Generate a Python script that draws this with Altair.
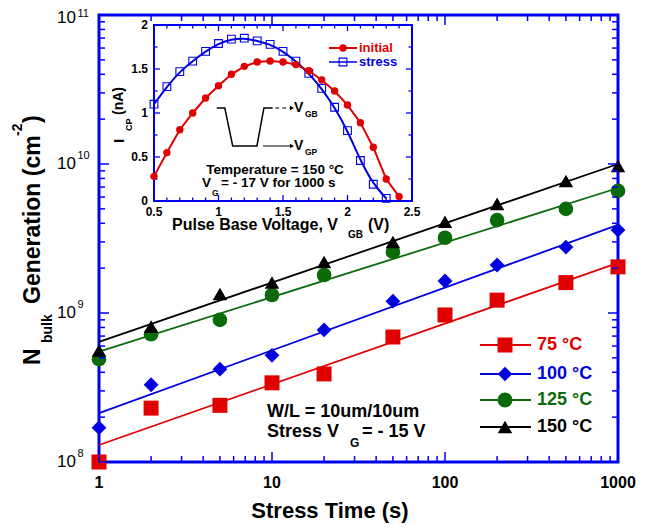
import altair as alt
import pandas as pd

# ---------------- data ----------------
stress_time = [1, 2, 5, 10, 20, 50, 100, 200, 500, 1000]
series_names = ["75 °C", "100 °C", "125 °C", "150 °C"]
n_75 = [1.0e8, 2.3e8, 2.4e8, 3.4e8, 3.9e8, 6.9e8, 9.7e8, 1.22e9, 1.6e9, 2.04e9]
n_100 = [1.7e8, 3.3e8, 4.2e8, 5.2e8, 7.7e8, 1.2e9, 1.64e9, 2.1e9, 2.77e9, 3.6e9]
n_125 = [4.9e8, 7.2e8, 9.0e8, 1.32e9, 1.8e9, 2.57e9, 3.2e9, 4.2e9, 5.0e9, 6.6e9]
n_150 = [5.6e8, 8.1e8, 1.34e9, 1.6e9, 2.2e9, 3.0e9, 4.1e9, 5.4e9, 7.7e9, 9.7e9]
fit_time = [1, 1000]
fit_start = [1.3e8, 2.13e8, 5.5e8, 6.4e8]
fit_end = [2.17e9, 3.9e9, 6.9e9, 1.0e10]

vgb_initial = [0.5, 0.6, 0.7, 0.8, 0.9, 1.0, 1.1, 1.2, 1.3, 1.4,
               1.5, 1.6, 1.7, 1.8, 1.9, 2.0, 2.1, 2.2, 2.3, 2.4]
icp_initial = [0.28, 0.55, 0.81, 1.00, 1.17, 1.31, 1.44, 1.53, 1.58, 1.59,
               1.58, 1.55, 1.48, 1.375, 1.25, 1.09, 0.89, 0.61, 0.25, 0.05]
vgb_stress = [0.5, 0.6, 0.7, 0.8, 0.9, 1.0, 1.1, 1.2, 1.3, 1.4,
              1.5, 1.6, 1.7, 1.8, 1.9, 2.0, 2.1, 2.2, 2.3]
icp_stress = [1.10, 1.30, 1.47, 1.59, 1.70, 1.79, 1.84, 1.85, 1.82, 1.78,
              1.70, 1.59, 1.45, 1.28, 1.065, 0.80, 0.46, 0.19, 0.03]

# schematic pulse drawn inside the inset (in inset units)
pulse_v = [0.987, 1.049, 1.11, 1.298, 1.352, 1.42]
pulse_i = [1.057, 1.057, 0.625, 0.625, 1.057, 1.057]
arrow_gb_v = [1.44, 1.57]
arrow_gp_v = [1.345, 1.57]
arrow_gb_i = 1.057
arrow_gp_i = 0.625

x_tick_vals = [1, 10, 100, 1000]
x_tick_labels = ["1", "10", "100", "1000"]
y_tick_vals = [1e8, 1e9, 1e10]
y_tick_exp = ["8", "9", "10"]
y_top_val = [1e11]
y_top_exp = ["11"]
inset_x_ticks = [0.5, 1.0, 1.5, 2.0, 2.5]
inset_x_labels = ["0.5", "1", "1.5", "2", "2.5"]
inset_y_ticks = [0.0, 0.5, 1.0, 1.5, 2.0]
inset_y_labels = ["0", "0.5", "1", "1.5", "2"]
inset_x_minor = [0.6, 0.7, 0.8, 0.9, 1.1, 1.2, 1.3, 1.4, 1.6, 1.7, 1.8, 1.9,
                 2.1, 2.2, 2.3, 2.4]
inset_y_minor = [0.25, 0.75, 1.25, 1.75]

# ---------------- style ----------------
FONT = "Liberation Sans"
RED = "#e00000"
BLUE = "#0000e0"
GREEN = "#0b6b0b"
BLACK = "#000000"
FRAME = "#0000f0"
COLORS = [RED, BLUE, GREEN, BLACK]
SHAPES = ["square", "diamond", "circle", "triangle-up"]
SIZES = [225, 210, 225, 210]

W, H = 519, 447
IX0, IX1, IY_TOP, IY_BOT = 55, 313, 10, 186

xs = alt.Scale(type="log", domain=[1, 1000], nice=False)
ys = alt.Scale(type="log", domain=[1e8, 1e11], nice=False)
ixs = alt.Scale(domain=[0.5, 2.5], range=[IX0, IX1], nice=False, zero=False)
iys = alt.Scale(domain=[0, 2], range=[IY_BOT, IY_TOP], nice=False, zero=False)

one = pd.DataFrame({"k": [0]})


def label(text, x, y, size, color=BLACK, align="left", weight="bold", angle=0):
    kw = dict(font=FONT, fontSize=size, fontWeight=weight, color=color,
              align=align, baseline="middle")
    if angle:
        kw["angle"] = angle
    return alt.Chart(one).mark_text(**kw).encode(
        x=alt.value(x), y=alt.value(y), text=alt.value(text))


def yticks(vals, scale, x0, x1, sw=1.5):
    return alt.Chart(pd.DataFrame({"v": vals})).mark_rule(color=FRAME, strokeWidth=sw).encode(
        y=alt.Y("v:Q", scale=scale, axis=None), x=alt.value(x0), x2=alt.value(x1))


def xticks(vals, scale, y0, y1, sw=1.5):
    return alt.Chart(pd.DataFrame({"v": vals})).mark_rule(color=FRAME, strokeWidth=sw).encode(
        x=alt.X("v:Q", scale=scale, axis=None), y=alt.value(y0), y2=alt.value(y1))


def ylabels(vals, exps, base_dy, exp_dy):
    df = pd.DataFrame({"v": vals, "e": exps})
    base = alt.Chart(df).mark_text(font=FONT, fontSize=17, align="right", baseline="middle",
                                   dy=base_dy, color=BLACK).encode(
        y=alt.Y("v:Q", scale=ys, axis=None), x=alt.value(-23), text=alt.value("10"))
    ex = alt.Chart(df).mark_text(font=FONT, fontSize=11, align="left", baseline="middle",
                                 dy=exp_dy, color=BLACK).encode(
        y=alt.Y("v:Q", scale=ys, axis=None), x=alt.value(-21.5), text="e:N")
    return [base, ex]


# ---------------- main chart ----------------
rows = []
for name, vals in zip(series_names, [n_75, n_100, n_125, n_150]):
    for tt, vv in zip(stress_time, vals):
        rows.append({"time": tt, "n": vv, "series": name})
df_main = pd.DataFrame(rows)

fit_rows = []
for name, a, b in zip(series_names, fit_start, fit_end):
    fit_rows.append({"time": fit_time[0], "n": a, "series": name})
    fit_rows.append({"time": fit_time[1], "n": b, "series": name})
df_fit = pd.DataFrame(fit_rows)

color_sc = alt.Scale(domain=series_names, range=COLORS)
shape_sc = alt.Scale(domain=series_names, range=SHAPES)
size_sc = alt.Scale(domain=series_names, range=SIZES)

fit_lines = alt.Chart(df_fit).mark_line(strokeWidth=1.8).encode(
    x=alt.X("time:Q", scale=xs, axis=None),
    y=alt.Y("n:Q", scale=ys, axis=None),
    color=alt.Color("series:N", scale=color_sc, legend=None),
    detail="series:N",
)
points = alt.Chart(df_main).mark_point(filled=True, opacity=1).encode(
    x=alt.X("time:Q", scale=xs, axis=None),
    y=alt.Y("n:Q", scale=ys, axis=None),
    color=alt.Color("series:N", scale=color_sc, legend=None),
    shape=alt.Shape("series:N", scale=shape_sc, legend=None),
    size=alt.Size("series:N", scale=size_sc, legend=None),
)

all_major_y = y_tick_vals + y_top_val
y_minor = [m * 10 ** k for k in (8, 9, 10) for m in range(2, 10)]
x_minor = [m * 10 ** k for k in (0, 1, 2) for m in range(2, 10)]

main_ticks = [
    yticks(all_major_y, ys, 0, 10), yticks(y_minor, ys, 0, 6),
    yticks(all_major_y, ys, W, W - 10), yticks(y_minor, ys, W, W - 6),
    xticks(x_tick_vals, xs, H, H - 10), xticks(x_minor, xs, H, H - 6),
    xticks(x_tick_vals, xs, 0, 10), xticks(x_minor, xs, 0, 6),
]

ylab_layers = ylabels(y_tick_vals, y_tick_exp, 0, -8) + ylabels(y_top_val, y_top_exp, 3, -1)

df_xlab = pd.DataFrame({"v": x_tick_vals, "l": x_tick_labels})
xlab = alt.Chart(df_xlab).mark_text(font=FONT, fontSize=16, fontWeight="bold",
                                    align="center", baseline="middle", color=BLACK).encode(
    x=alt.X("v:Q", scale=xs, axis=None), y=alt.value(468), text="l:N")

main_text = [
    label("Stress Time (s)", 231, 496, 22, align="center"),
    label("N", -66, 350, 23, angle=270),
    label("bulk", -51, 328, 14, angle=270),
    label("Generation (cm", -66, 289, 23, angle=270),
    label("-2", -81, 121, 14, angle=270),
    label(")", -66, 108, 23, angle=270),
    label("W/L = 10um/10um", 168, 397, 18),
    label("Stress V", 168, 417, 18),
    label("G", 251, 428, 12),
    label("= - 15 V", 263, 417, 18),
]

legend_layers = []
leg_y = [330, 359, 385, 412]
for name, col, shp, sz, ly in zip(series_names, COLORS, SHAPES, SIZES, leg_y):
    legend_layers.append(alt.Chart(one).mark_rule(color=col, strokeWidth=2).encode(
        x=alt.value(381), x2=alt.value(432), y=alt.value(ly)))
    legend_layers.append(alt.Chart(one).mark_point(filled=True, opacity=1, color=col,
                                                   shape=shp, size=sz).encode(
        x=alt.value(406), y=alt.value(ly)))
    legend_layers.append(label(name, 438, ly, 18, color=col))

main_layer = alt.layer(fit_lines, points, *main_ticks, *ylab_layers, xlab,
                       *main_text, *legend_layers)

# ---------------- inset ----------------
inset_frame = alt.Chart(one).mark_rect(fill="white", stroke=FRAME, strokeWidth=2).encode(
    x=alt.value(IX0), x2=alt.value(IX1), y=alt.value(IY_TOP), y2=alt.value(IY_BOT))

inset_ticks = [
    xticks(inset_x_ticks, ixs, IY_BOT, IY_BOT - 6, 1.3), xticks(inset_x_minor, ixs, IY_BOT, IY_BOT - 3.5, 1.3),
    xticks(inset_x_ticks, ixs, IY_TOP, IY_TOP + 6, 1.3), xticks(inset_x_minor, ixs, IY_TOP, IY_TOP + 3.5, 1.3),
    yticks(inset_y_ticks, iys, IX0, IX0 + 6, 1.3), yticks(inset_y_minor, iys, IX0, IX0 + 3.5, 1.3),
    yticks(inset_y_ticks, iys, IX1, IX1 - 6, 1.3), yticks(inset_y_minor, iys, IX1, IX1 - 3.5, 1.3),
]

df_init = pd.DataFrame({"v": vgb_initial, "i": icp_initial})
df_str = pd.DataFrame({"v": vgb_stress, "i": icp_stress})
IX = alt.X("v:Q", scale=ixs, axis=None)
IY = alt.Y("i:Q", scale=iys, axis=None)

init_line = alt.Chart(df_init).mark_line(color=RED, strokeWidth=2).encode(x=IX, y=IY)
init_pts = alt.Chart(df_init).mark_point(filled=True, opacity=1, color=RED, shape="circle",
                                         size=55).encode(x=IX, y=IY)
str_line = alt.Chart(df_str).mark_line(color=BLUE, strokeWidth=2, interpolate="basis").encode(x=IX, y=IY)
str_pts = alt.Chart(df_str).mark_point(filled=False, opacity=1, color=BLUE, shape="square",
                                       size=60, strokeWidth=1.1).encode(x=IX, y=IY)

pulse = alt.Chart(pd.DataFrame({"v": pulse_v, "i": pulse_i})).mark_line(
    color=BLACK, strokeWidth=1.5).encode(x=IX, y=IY)
arrow_gb = alt.Chart(pd.DataFrame({"v": arrow_gb_v, "i": [arrow_gb_i] * 2})).mark_line(
    color=BLACK, strokeWidth=1, strokeDash=[4, 3]).encode(x=IX, y=IY)
arrow_gp = alt.Chart(pd.DataFrame({"v": arrow_gp_v, "i": [arrow_gp_i] * 2})).mark_line(
    color=BLACK, strokeWidth=1).encode(x=IX, y=IY)
heads = alt.Chart(pd.DataFrame({"v": [arrow_gb_v[1], arrow_gp_v[1]],
                                "i": [arrow_gb_i, arrow_gp_i]})).mark_point(
    filled=True, opacity=1, color=BLACK, shape="triangle-right", size=22).encode(x=IX, y=IY)

df_ixl = pd.DataFrame({"v": inset_x_ticks, "l": inset_x_labels})
ixlab = alt.Chart(df_ixl).mark_text(font=FONT, fontSize=12, fontWeight="bold", align="center",
                                    baseline="middle", color=BLACK).encode(
    x=alt.X("v:Q", scale=ixs, axis=None), y=alt.value(197), text="l:N")
df_iyl = pd.DataFrame({"v": inset_y_ticks, "l": inset_y_labels})
iylab = alt.Chart(df_iyl).mark_text(font=FONT, fontSize=12, fontWeight="bold", align="right",
                                    baseline="middle", color=BLACK).encode(
    y=alt.Y("v:Q", scale=iys, axis=None), x=alt.value(49), text="l:N")

inset_text = [
    label("Pulse Base Voltage, V", 73, 210, 16),
    label("GB", 249, 220, 10),
    label("(V)", 269, 210, 16),
    label("I", 20, 128, 15, angle=270),
    label("CP", 30, 116, 9, angle=270),
    label("(nA)", 20, 100, 14, angle=270),
    label("Temperature = 150 °C", 176, 155, 13.5, align="center"),
    label("V", 103, 168, 13.5),
    label("G", 113, 178, 8.5),
    label("= - 17 V for 1000 s", 122, 168, 13.5),
    label("V", 195, 93, 14),
    label("GB", 206, 99, 8.5),
    label("V", 195, 131, 14),
    label("GP", 206, 137, 8.5),
]

inset_legend = [
    alt.Chart(one).mark_rule(color=RED, strokeWidth=2).encode(
        x=alt.value(230), x2=alt.value(258), y=alt.value(33)),
    alt.Chart(one).mark_point(filled=True, opacity=1, color=RED, shape="circle", size=55).encode(
        x=alt.value(244), y=alt.value(33)),
    label("initial", 260, 33, 13, color=RED),
    alt.Chart(one).mark_rule(color=BLUE, strokeWidth=1.5).encode(
        x=alt.value(230), x2=alt.value(258), y=alt.value(47)),
    alt.Chart(one).mark_point(filled=False, opacity=1, color=BLUE, shape="square", size=60,
                              strokeWidth=1.1).encode(x=alt.value(244), y=alt.value(47)),
    label("stress", 260, 47, 13, color=BLUE),
]

inset_layer = alt.layer(inset_frame, *inset_ticks, str_line, str_pts, init_line, init_pts,
                        pulse, arrow_gb, arrow_gp, heads, ixlab, iylab, *inset_text,
                        *inset_legend)

chart = alt.layer(main_layer, inset_layer).resolve_scale(
    x="independent", y="independent"
).properties(
    width=W, height=H,
    autosize=alt.AutoSizeParams(type="none"),
    padding={"left": 91, "top": 7, "right": 35, "bottom": 61},
    background="white",
).configure_view(stroke=FRAME, strokeWidth=3)

chart.save("out.html", embed_options={"renderer": "svg", "actions": False})
